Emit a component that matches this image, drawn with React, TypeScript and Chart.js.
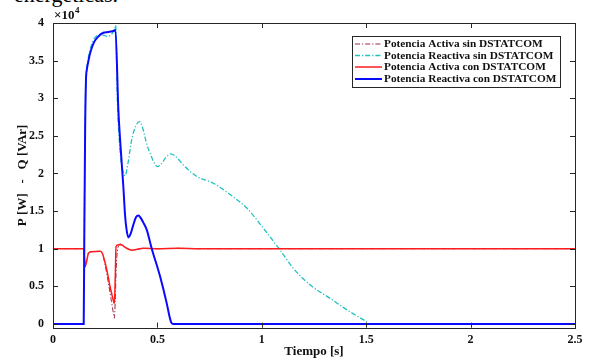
import React, { useEffect, useRef } from "react";
import { Chart, registerables } from "chart.js";

Chart.register(...registerables);

// ---------- data (values in units of 10^4) ----------
const SERIES_NAMES = [
  "Potencia Activa sin DSTATCOM",
  "Potencia Reactiva sin DSTATCOM",
  "Potencia Activa con DSTATCOM",
  "Potencia Reactiva con DSTATCOM",
];

const T_P_SIN = [0, 0.146, 0.15, 0.154, 0.16, 0.17, 0.186, 0.226, 0.238, 0.25, 0.265, 0.28, 0.29, 0.294, 0.298, 0.303, 0.31, 0.321, 0.335, 0.35, 0.365, 0.38, 0.4, 0.433, 0.5, 0.6, 0.7, 2.5];
const P_SIN = [1, 1, 0.9, 0.76, 0.82, 0.94, 0.96, 0.965, 0.92, 0.78, 0.55, 0.3, 0.13, 0.076, 0.3, 0.75, 1.0, 1.05, 1.04, 1.01, 0.99, 0.98, 0.99, 1.005, 1.0, 1.005, 1.0, 1.0];

const T_Q_SIN = [0, 0.146, 0.15, 0.155, 0.16, 0.17, 0.19, 0.21, 0.24, 0.26, 0.28, 0.295, 0.3, 0.308, 0.321, 0.333, 0.345, 0.36, 0.377, 0.395, 0.414, 0.43, 0.45, 0.465, 0.483, 0.5, 0.52, 0.537, 0.564, 0.59, 0.625, 0.689, 0.768, 0.848, 0.928, 1.008, 1.088, 1.151, 1.231, 1.327, 1.423, 1.49, 1.52, 2.5];
const Q_SIN = [0, 0, 1.3, 2.9, 3.3, 3.55, 3.75, 3.83, 3.84, 3.82, 3.85, 3.92, 3.97, 2.98, 2.31, 2.05, 1.97, 2.15, 2.45, 2.62, 2.69, 2.6, 2.38, 2.27, 2.15, 2.09, 2.13, 2.2, 2.26, 2.22, 2.11, 1.96, 1.87, 1.72, 1.54, 1.27, 0.98, 0.74, 0.52, 0.34, 0.16, 0.05, 0, 0];

const T_P_CON = [0, 0.146, 0.15, 0.154, 0.16, 0.17, 0.186, 0.226, 0.236, 0.25, 0.262, 0.273, 0.283, 0.29, 0.294, 0.298, 0.302, 0.31, 0.321, 0.335, 0.35, 0.365, 0.38, 0.4, 0.433, 0.5, 0.6, 0.7, 2.5];
const P_CON = [1, 1, 0.9, 0.76, 0.82, 0.94, 0.96, 0.965, 0.94, 0.81, 0.66, 0.5, 0.38, 0.3, 0.27, 0.6, 1.03, 1.05, 1.06, 1.04, 1.01, 0.99, 0.98, 0.99, 1.005, 1.0, 1.005, 1.0, 1.0];

const T_Q_CON = [0, 0.147, 0.15, 0.154, 0.158, 0.162, 0.17, 0.178, 0.194, 0.217, 0.241, 0.265, 0.294, 0.299, 0.313, 0.325, 0.337, 0.345, 0.352, 0.361, 0.372, 0.385, 0.398, 0.409, 0.42, 0.432, 0.449, 0.473, 0.513, 0.545, 0.558, 0.566, 0.575, 2.5];
const Q_CON = [0, 0, 1.2, 2.6, 3.25, 3.38, 3.5, 3.6, 3.73, 3.82, 3.87, 3.88, 3.9, 3.91, 2.85, 2.3, 1.82, 1.45, 1.26, 1.15, 1.2, 1.32, 1.42, 1.44, 1.41, 1.35, 1.25, 1.0, 0.63, 0.27, 0.1, 0.02, 0, 0];

const X_TICKS = [0, 0.5, 1, 1.5, 2, 2.5];
const Y_TICKS = [0, 0.5, 1, 1.5, 2, 2.5, 3, 3.5, 4];
const Y_EXPONENT = "4";
const X_TITLE = "Tiempo [s]";
const Y_TITLE = "P [W]   -   Q [VAr]";
const TOP_TEXT = "energéticas.";

// ---------- styles ----------
const COLORS = ["#962c44", "#22c0c0", "#ff1c1c", "#0a0aff"];
const WIDTHS = [1, 1.3, 1.5, 2];
const DASHES: number[][] = [[5, 2, 1.2, 2], [5, 2, 1.2, 2], [], []];
const ORDERS = [3, 2, 1, 0];
const FONT = "'Liberation Serif', 'Times New Roman', serif";
const INK = "#111111";

const toPts = (t: number[], v: number[]) => t.map((x, i) => ({ x, y: v[i] }));

const boxPlugin = {
  id: "matlabBox",
  afterDraw(chart: any) {
    const { ctx, chartArea, scales } = chart;
    const { left, right, top, bottom } = chartArea;
    const xs = scales.x;
    const ys = scales.y;
    ctx.save();
    ctx.strokeStyle = "#262626";
    ctx.lineWidth = 1;
    ctx.setLineDash([]);
    ctx.strokeRect(Math.round(left) + 0.5, Math.round(top) + 0.5, Math.round(right - left), Math.round(bottom - top));
    const tl = 5;
    ctx.beginPath();
    X_TICKS.forEach((v) => {
      const px = Math.round(xs.getPixelForValue(v)) + 0.5;
      ctx.moveTo(px, bottom);
      ctx.lineTo(px, bottom - tl);
      ctx.moveTo(px, top);
      ctx.lineTo(px, top + tl);
    });
    Y_TICKS.forEach((v) => {
      const py = Math.round(ys.getPixelForValue(v)) + 0.5;
      ctx.moveTo(left, py);
      ctx.lineTo(left + tl, py);
      ctx.moveTo(right, py);
      ctx.lineTo(right - tl, py);
    });
    ctx.stroke();

    // exponent label
    ctx.fillStyle = INK;
    ctx.textBaseline = "alphabetic";
    ctx.textAlign = "left";
    ctx.font = `bold 13px ${FONT}`;
    ctx.fillText("\u00d710", left + 1, top - 4.5);
    const w = ctx.measureText("\u00d710").width;
    ctx.font = `bold 9px ${FONT}`;
    ctx.fillText(Y_EXPONENT, left + 1 + w + 0.5, top - 10);

    // legend
    const lx0 = 352.5, ly0 = 36.5, lx1 = 560.5, ly1 = 87.5;
    ctx.fillStyle = "#ffffff";
    ctx.fillRect(lx0, ly0, lx1 - lx0, ly1 - ly0);
    ctx.strokeStyle = "#262626";
    ctx.lineWidth = 1;
    ctx.strokeRect(lx0, ly0, lx1 - lx0, ly1 - ly0);
    const rows = [44, 55.5, 67, 79];
    SERIES_NAMES.forEach((name, i) => {
      ctx.save();
      ctx.strokeStyle = COLORS[i];
      ctx.lineWidth = WIDTHS[i];
      ctx.setLineDash(DASHES[i]);
      ctx.beginPath();
      ctx.moveTo(355, rows[i]);
      ctx.lineTo(382, rows[i]);
      ctx.stroke();
      ctx.restore();
      ctx.fillStyle = INK;
      ctx.font = `bold 11.3px ${FONT}`;
      ctx.textBaseline = "middle";
      ctx.textAlign = "left";
      ctx.fillText(name, 384, rows[i] + 0.5);
    });
    ctx.restore();
  },
};

export default function App() {
  const canvasRef = useRef<HTMLCanvasElement | null>(null);

  useEffect(() => {
    const canvas = canvasRef.current;
    if (!canvas) return;
    const series = [
      toPts(T_P_SIN, P_SIN),
      toPts(T_Q_SIN, Q_SIN),
      toPts(T_P_CON, P_CON),
      toPts(T_Q_CON, Q_CON),
    ];
    const chart = new Chart(canvas, {
      type: "line",
      data: {
        datasets: series.map((pts, i) => ({
          label: SERIES_NAMES[i],
          data: pts,
          borderColor: COLORS[i],
          backgroundColor: COLORS[i],
          borderWidth: WIDTHS[i],
          borderDash: DASHES[i],
          pointRadius: 0,
          fill: false,
          cubicInterpolationMode: "monotone",
          order: ORDERS[i],
        })),
      },
      options: {
        animation: false,
        responsive: true,
        maintainAspectRatio: false,
        devicePixelRatio: 1,
        layout: { padding: { left: 0, right: 14, top: 23, bottom: 0 } },
        plugins: { legend: { display: false }, tooltip: { enabled: false } },
        scales: {
          x: {
            type: "linear",
            min: 0,
            max: 2.5,
            afterBuildTicks: (s: any) => {
              s.ticks = X_TICKS.map((value) => ({ value }));
            },
            afterFit: (s: any) => {
              s.height = 30.3;
            },
            grid: { display: false, drawTicks: false },
            border: { display: false },
            ticks: {
              padding: 5,
              color: INK,
              font: { family: FONT, size: 12, weight: "bold" },
              maxRotation: 0,
              callback: (v: any) => String(v),
            },
            title: {
              display: true,
              text: X_TITLE,
              color: INK,
              padding: 0,
              font: { family: FONT, size: 13, weight: "bold", lineHeight: 1 },
            },
          },
          y: {
            type: "linear",
            min: -0.05,
            max: 4,
            afterBuildTicks: (s: any) => {
              s.ticks = Y_TICKS.map((value) => ({ value }));
            },
            afterFit: (s: any) => {
              s.width = 53;
            },
            grid: { display: false, drawTicks: false },
            border: { display: false },
            ticks: {
              padding: 9,
              color: INK,
              font: { family: FONT, size: 12, weight: "bold" },
              callback: (v: any) => String(v),
            },
            title: {
              display: true,
              text: Y_TITLE,
              color: INK,
              padding: { top: 16, bottom: 0 },
              font: { family: FONT, size: 13, weight: "bold", lineHeight: 1 },
            },
          },
        },
      },
      plugins: [boxPlugin],
    } as any);
    return () => chart.destroy();
  }, []);

  return (
    <div
      style={{
        position: "fixed",
        left: 0,
        top: 0,
        width: 589,
        height: 358,
        overflow: "hidden",
        background: "#ffffff",
      }}
    >
      <div
        style={{
          position: "absolute",
          left: 0,
          top: -16.5,
          width: 118,
          textAlign: "right",
          whiteSpace: "nowrap",
          fontFamily: FONT,
          fontSize: 22,
          lineHeight: "22px",
          color: "#000",
          direction: "rtl",
        }}
      >
        <span style={{ direction: "ltr", unicodeBidi: "embed" }}>{TOP_TEXT}</span>
      </div>
      <div style={{ position: "absolute", left: 0, top: 0, width: 589, height: 358 }}>
        <canvas ref={canvasRef} />
      </div>
    </div>
  );
}
